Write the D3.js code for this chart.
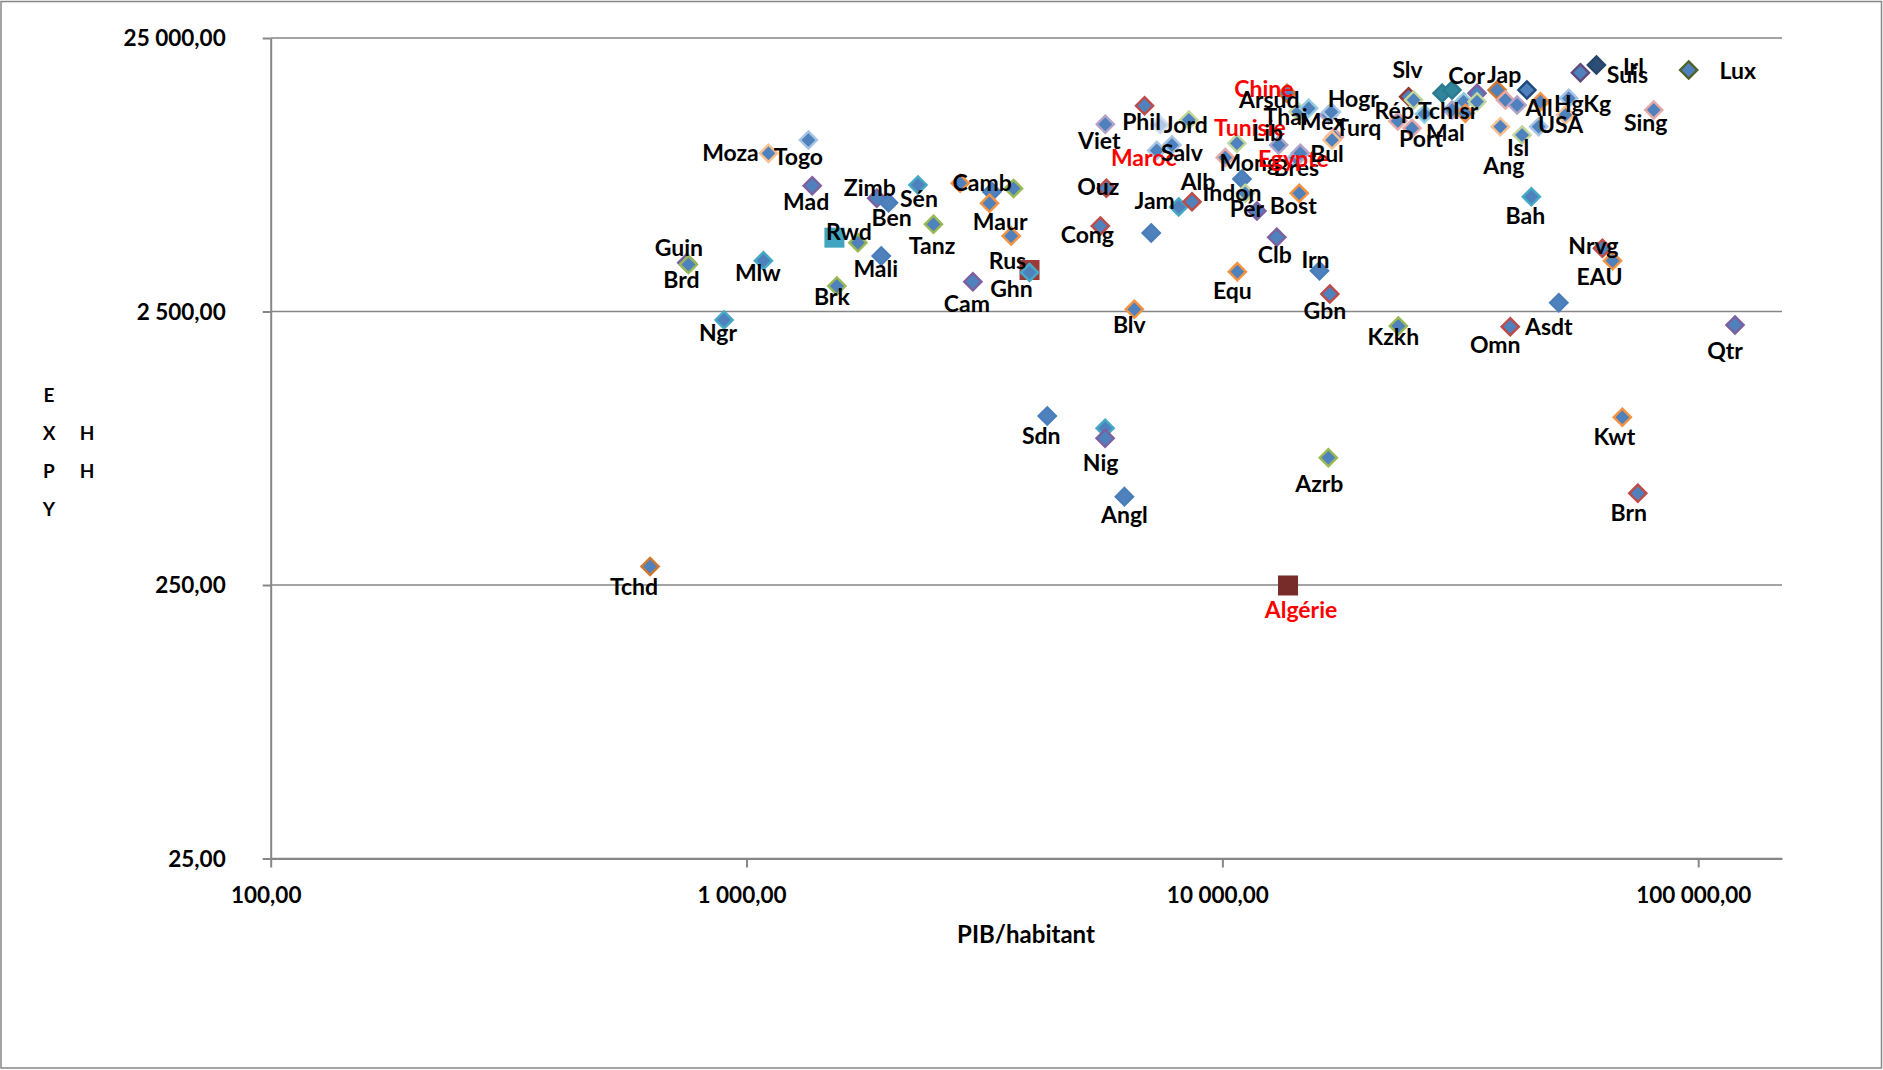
<!DOCTYPE html>
<html><head><meta charset="utf-8">
<script src="https://cdn.jsdelivr.net/npm/d3@7"></script>
<style>html,body{margin:0;padding:0;background:#fff;} svg{display:block;}</style>
</head><body>
<svg id="chart" width="1883" height="1070"></svg>
<script>
// ---------------- DATA ----------------
const countries = [
 "Tchd","Ngr","Guin","Brd","Mlw","Moza","Togo","Mad","","Brk",
 "Rwd","Zimb","Ben","Mali","Sén","Tanz","Camb","","","Cam",
 "","Maur","Rus","Ghn","Sdn","","Nig","Angl","Cong","Ouz",
 "Viet","Phil","","Blv","","Maroc","Salv","Jam","Jord","Alb",
 "Mong","Tunisie","Equ","Indon","","Pér","Clb","Lib","Chine","Arsud",
 "Bres","Egypte","Bost","Thai","Irn","Mex","Hogr","Gbn","Azrb","Turq",
 "Bul","Algérie","Rép.Tch","Kzkh","Slv","","Port","Mal","","Cor",
 "","Isr","","","","Jap","Ang","","Omn","All",
 "","Isl","USA","","Bah","Asdt","","HgKg","Suis","Irl",
 "Nrvg","EAU","Kwt","Brn","Sing","Lux","Qtr"
];
const gdpPerCapita = [
 627,897,749,755,1085,1112,1349,1374,1530,1548,
 1714,1878,1988,1919,2292,2471,2812,3279,3640,2990,
 3240,3599,3933,3933,4285,5670,5670,6225,5540,5704,
 5675,6862,7403,6530,7087,7280,7834,8094,8500,8633,
 10140,10730,10750,10995,11170,11820,13010,13130,13670,14440,
 14300,14580,14510,15180,16000,16720,16940,16820,16700,17190,
 17000,13740,23370,23430,24620,25230,25040,26580,28950,30380,
 30380,32140,32400,34290,34290,37790,38390,39330,40270,41630,
 43650,42640,46210,46600,44600,50930,52590,53430,56550,61100,
 62900,66070,69270,74650,80630,95500,119500
];
const expyValues = [
 292,2328,3771,3714,3834,9465,10590,7210,4655,3099,
 4462,6484,6249,3990,7253,5210,7362,6855,7045,3213,
 6217,4721,3545,3475,1037,935,860,526,5135,7055,
 12090,14140,12020,2547,4842,9697,10150,6027,12540,6300,
 9141,10300,3496,7627,6763,5826,4669,10150,15700,13440,
 9103,9471,6763,13830,3525,13080,13410,2897,730,10860,
 10590,249,12430,2213,15250,14840,11690,13190,15700,16140,
 13640,14620,13260,15700,14620,16140,11850,14840,2200,14220,
 16140,11050,11850,14620,6573,2692,13080,15050,18670,19920,
 4256,3833,1026,541,13640,19090,2232
];
const xTicks = [100, 1000, 10000, 100000];
const yTicks = [25, 250, 2500, 25000];
const highlighted = ["Chine","Tunisie","Maroc","Egypte","Algérie"];

// ---------------- STYLE / LAYOUT (kept apart from the data) ----------------
const markerStyle = [
 "do","a","p","g","a","lo","lb","p","sqTeal","g",
 "g","p","b","b","a","g","o","b","g","p",
 "o","o","sqRus","a","b","a","p","b","r","r",
 "lp","r","faded","o","b","lb","lb","a","lg","r",
 "lr","lg","o","b","lg","p","p","lp","do","lg",
 "lb","lp","o","la","b","lp","lb","r","g","lr",
 "lo","sqAlg","lr","g","dr","lg","lr","la","teal","teal",
 "lp","la","o","p","lg","do","lo","lr","r","lp",
 "db","lg","lb","o","a","b","lo","lb","dp","navy",
 "r","o","o","r","lr","dg","p"
];
const labelDx = [
 -16,-6,-8,-7,-5.5,-38,-10,-6,0,-5,
 -9,-7,3,-5.5,1,-1.5,22,0,0,-6,
 0,-11,-22,-18,-6,0,-4.5,0,-13,-8,
 -6,-3,0,-5,0,-13,10,-24,-3,6,
 24,13,-5,-10,0,-10,-2,-11,-23,-29,
 0,-7,-6,-23,-4,-6,22,-5,-9,24,
 -5,13,16,-5,-1,0,9,21,0,14.6,
 0,2,0,0,0,7,3.5,0,-15,22,
 0,-4,22,0,-6,-10,0,14,47,37,
 -9,-13,-8,-9,-8,49,-10
];
const labelDy = [
 20,13,-15,15,12,0,17,16,0,11,
 -11,-10,15,13,14,22,0,0,0,22,
 0,-14,-9,17,20,0,25,18,9,-1,
 17,16,0,16,0,7,7.5,-6,5,-20,
 5,-15,19,14,0,-2,18,-12,-4,-12,
 10,6,13,9,-11,7.5,-13.5,17,26,-9,
 14,24,-10.5,11,-27,0,11,19,0,-14,
 0,9,0,0,0,-15.5,39,0,18,3,
 0,13,-2,0,19.5,24,0,6,2,2,
 -2,16,20,20,12.5,1,26
];
const palette = {
 b:"#4A7EBB", r:"#BE4B48", g:"#98B954", p:"#7D60A0", a:"#46AAC5", o:"#F69240",
 lb:"#A7C4E5", lr:"#E6A9A8", lg:"#C3D69B", lp:"#B3A2C7", la:"#93CDDD", lo:"#FAC090",
 do:"#D0782E", dr:"#953735", dg:"#4F6228", dp:"#604A7B", db:"#1F497D"
};
const blueFill = "#4F81BD";

// ---------------- CHART ----------------
const svg = d3.select("#chart");
const W = 1883, H = 1070;
const x0 = 270.7, x1 = 1782, yTop = 38, yBot = 858.5;
const x = d3.scaleLog().domain([100, 150000]).range([x0, x1]);
const y = d3.scaleLog().domain([25, 25000]).range([yBot, yTop]);
const frLocale = d3.formatLocale({decimal: ",", thousands: "\u00a0", grouping: [3], currency: ["", ""]});
const fmt = frLocale.format(",.2f");
const FONT = "Lato, 'Open Sans', sans-serif";
const axisGrey = "#868686";

svg.append("rect").attr("x", 1).attr("y", 1.5).attr("width", W - 2.5).attr("height", H - 3.5)
  .attr("fill", "#fff").attr("stroke", axisGrey).attr("stroke-width", 1.5);

// gridlines
svg.append("g").selectAll("line").data(yTicks).join("line")
  .attr("x1", x0).attr("x2", x1)
  .attr("y1", d => y(d)).attr("y2", d => y(d))
  .attr("stroke", axisGrey).attr("stroke-width", 1.7);

// y axis
const gy = svg.append("g").attr("transform", `translate(${x0},0)`)
  .call(d3.axisLeft(y).tickValues(yTicks).tickSize(8).tickSizeOuter(0).tickPadding(37).tickFormat(fmt));
// x axis
const gx = svg.append("g").attr("transform", `translate(0,${yBot})`)
  .call(d3.axisBottom(x).tickValues(xTicks).tickSize(9).tickSizeOuter(0).tickFormat(fmt));
[gx, gy].forEach(g => {
  g.select(".domain").attr("stroke", axisGrey).attr("stroke-width", 2);
  g.selectAll(".tick line").attr("stroke", axisGrey).attr("stroke-width", 2);
  g.selectAll(".tick text").attr("fill", "#000").style("font-family", FONT)
    .style("font-weight", "700").style("font-size", "22.5px");
});
gx.selectAll(".tick text").attr("y", 36.5).attr("dy", "0.35em").attr("dx", -5);
gy.selectAll(".tick text").attr("dy", "0.35em");

// axis titles
svg.append("text").attr("x", 1026).attr("y", 935).attr("dy", "0.35em")
  .attr("text-anchor", "middle").style("font-family", FONT).style("font-weight", "700")
  .style("font-size", "24px").text("PIB/habitant");
const yTitle = [["E", 49, 395], ["X", 49, 433], ["P", 49, 471], ["Y", 49, 509], ["H", 87, 433], ["H", 87, 471]];
svg.append("g").selectAll("text").data(yTitle).join("text")
  .attr("x", d => d[1]).attr("y", d => d[2]).attr("dy", "0.35em").attr("text-anchor", "middle")
  .style("font-family", FONT).style("font-weight", "700").style("font-size", "19px")
  .text(d => d[0]);

// points
const pts = countries.map((c, i) => ({name: c, gdp: gdpPerCapita[i], expy: expyValues[i],
  style: markerStyle[i], dx: labelDx[i], dy: labelDy[i]}));
const r = 8.6;
const diamond = `M0,${-r}L${r},0L0,${r}L${-r},0Z`;
const gm = svg.append("g");
pts.forEach(p => {
  const px = x(p.gdp), py = y(p.expy);
  if (p.style.startsWith("sq")) {
    const col = {sqTeal: "#41A5C0", sqRus: "#9B3A38", sqAlg: "#772C2A"}[p.style];
    gm.append("rect").attr("x", px - 10).attr("y", py - 10).attr("width", 20).attr("height", 20)
      .attr("fill", col);
    return;
  }
  let fill = blueFill, stroke = palette[p.style] || "#4A7EBB";
  if (p.style === "teal") { fill = "#31859C"; stroke = "#2B7A8F"; }
  if (p.style === "navy") { fill = "#2C4D75"; stroke = "#27456A"; }
  if (p.style === "faded") { fill = "#B4C8E4"; stroke = "#D6E1F0"; }
  gm.append("path").attr("d", diamond).attr("transform", `translate(${px},${py})`)
    .attr("fill", fill).attr("stroke", stroke).attr("stroke-width", 2.4);
});

// labels
svg.append("g").selectAll("text").data(pts.filter(p => p.name !== "")).join("text")
  .attr("x", p => x(p.gdp) + p.dx).attr("y", p => y(p.expy) + p.dy).attr("dy", "0.35em")
  .attr("text-anchor", "middle")
  .style("font-family", FONT).style("font-weight", "700").style("font-size", "23px")
  .attr("fill", p => highlighted.includes(p.name) ? "#FF0000" : "#000")
  .text(p => p.name);
</script></body></html>
